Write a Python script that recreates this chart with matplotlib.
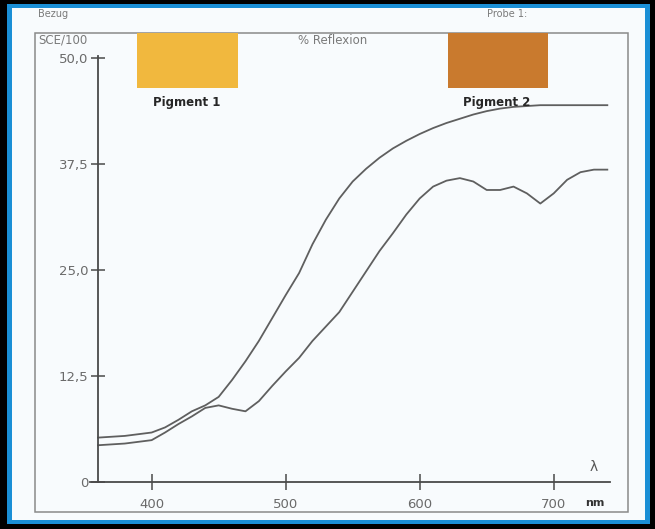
import matplotlib
matplotlib.use("Agg")
import matplotlib.pyplot as plt
from matplotlib.patches import Rectangle

# ---- data ----
wavelength = [360, 370, 380, 390, 400, 410, 420, 430, 440, 450, 460, 470, 480,
              490, 500, 510, 520, 530, 540, 550, 560, 570, 580, 590, 600, 610,
              620, 630, 640, 650, 660, 670, 680, 690, 700, 710, 720, 730, 740]
reflex_upper = [5.2, 5.3, 5.4, 5.6, 5.8, 6.4, 7.3, 8.3, 9.0, 10.0, 12.0, 14.2,
                16.6, 19.3, 22.0, 24.6, 28.0, 30.9, 33.4, 35.4, 36.9, 38.2,
                39.3, 40.2, 41.0, 41.7, 42.3, 42.8, 43.3, 43.7, 44.0, 44.2,
                44.3, 44.4, 44.4, 44.4, 44.4, 44.4, 44.4]
reflex_lower = [4.3, 4.4, 4.5, 4.7, 4.9, 5.8, 6.8, 7.7, 8.7, 9.0, 8.6, 8.3,
                9.5, 11.3, 13.0, 14.6, 16.6, 18.3, 20.0, 22.4, 24.8, 27.2,
                29.3, 31.5, 33.4, 34.8, 35.5, 35.8, 35.4, 34.4, 34.4, 34.8,
                34.0, 32.8, 34.0, 35.6, 36.5, 36.8, 36.8]
x_ticks = [400, 500, 600, 700]
x_tick_labels = ["400", "500", "600", "700"]
y_ticks = [0, 12.5, 25.0, 37.5, 50.0]
y_tick_labels = ["0", "12,5", "25,0", "37,5", "50,0"]
pigment_labels = ["Pigment 1", "Pigment 2"]
pigment_colors = ["#F1B83E", "#C97A2E"]

W, H = 655, 529
fig = plt.figure(figsize=(W / 100, H / 100), dpi=100)
fig.patch.set_facecolor("black")

def fx(x):
    return x / W

def fy(y):
    return 1 - y / H

# background / frame axes in pixel coordinates
bg = fig.add_axes([0, 0, 1, 1])
bg.set_xlim(0, W)
bg.set_ylim(H, 0)
bg.axis("off")
bg.add_patch(Rectangle((0, 0), W, H, facecolor="black", edgecolor="none"))
bg.add_patch(Rectangle((7, 4), 643, 520, facecolor="#1a8fd6", edgecolor="none"))
bg.add_patch(Rectangle((12, 8), 633, 512, facecolor="#f8fbfd", edgecolor="none"))
bg.add_patch(Rectangle((35, 33), 593, 479, facecolor="none",
                       edgecolor="#8a8a8a", linewidth=1.1))
# colour swatches
bg.add_patch(Rectangle((137, 33), 101, 55, facecolor=pigment_colors[0],
                       edgecolor="none"))
bg.add_patch(Rectangle((448, 33), 100, 55, facecolor=pigment_colors[1],
                       edgecolor="none"))

# main chart axes
ax = fig.add_axes([fx(90), fy(481.7), 520 / W, (481.7 - 56.0) / H])
ax.patch.set_alpha(0)
ax.set_xlim(354, 742)
ax.set_ylim(0, 50.2)

ax.plot(wavelength, reflex_upper, color="#5f5f5f", linewidth=1.3)
ax.plot(wavelength, reflex_lower, color="#5f5f5f", linewidth=1.3)

for s in ["top", "right"]:
    ax.spines[s].set_visible(False)
ax.spines["left"].set_position(("data", 360))
for s in ["left", "bottom"]:
    ax.spines[s].set_color("#4a4a4a")
    ax.spines[s].set_linewidth(1.3)

ax.set_xticks(x_ticks)
ax.set_xticklabels(x_tick_labels)
ax.set_yticks(y_ticks)
ax.set_yticklabels(y_tick_labels)
ax.tick_params(axis="x", direction="inout", length=12, width=1.1,
               color="#4a4a4a", labelcolor="#6a6a6a", labelsize=9.5, pad=6)
ax.tick_params(axis="y", direction="inout", length=10, width=1.1,
               color="#4a4a4a", labelcolor="#6a6a6a", labelsize=9.5, pad=2)

# texts
tc = "#7a7a7a"
fig.text(fx(38), fy(14), "Bezug", fontsize=7, color=tc, va="center", ha="left")
fig.text(fx(487), fy(14), "Probe 1:", fontsize=7, color=tc, va="center", ha="left")
fig.text(fx(38), fy(40), "SCE/100", fontsize=8.5, color=tc, va="center", ha="left")
fig.text(fx(298), fy(40), "% Reflexion", fontsize=8.5, color=tc, va="center", ha="left")
fig.text(fx(187), fy(102), pigment_labels[0], fontsize=8.5, color="#262626",
         fontweight="bold", va="center", ha="center")
fig.text(fx(497), fy(102), pigment_labels[1], fontsize=8.5, color="#262626",
         fontweight="bold", va="center", ha="center")
fig.text(fx(594), fy(467), "λ", fontsize=10, color="#555555", va="center", ha="center")
fig.text(fx(595), fy(503), "nm", fontsize=8, color="#333333", fontweight="bold",
         va="center", ha="center")

fig.savefig("out.png", dpi=100, facecolor=fig.get_facecolor())
